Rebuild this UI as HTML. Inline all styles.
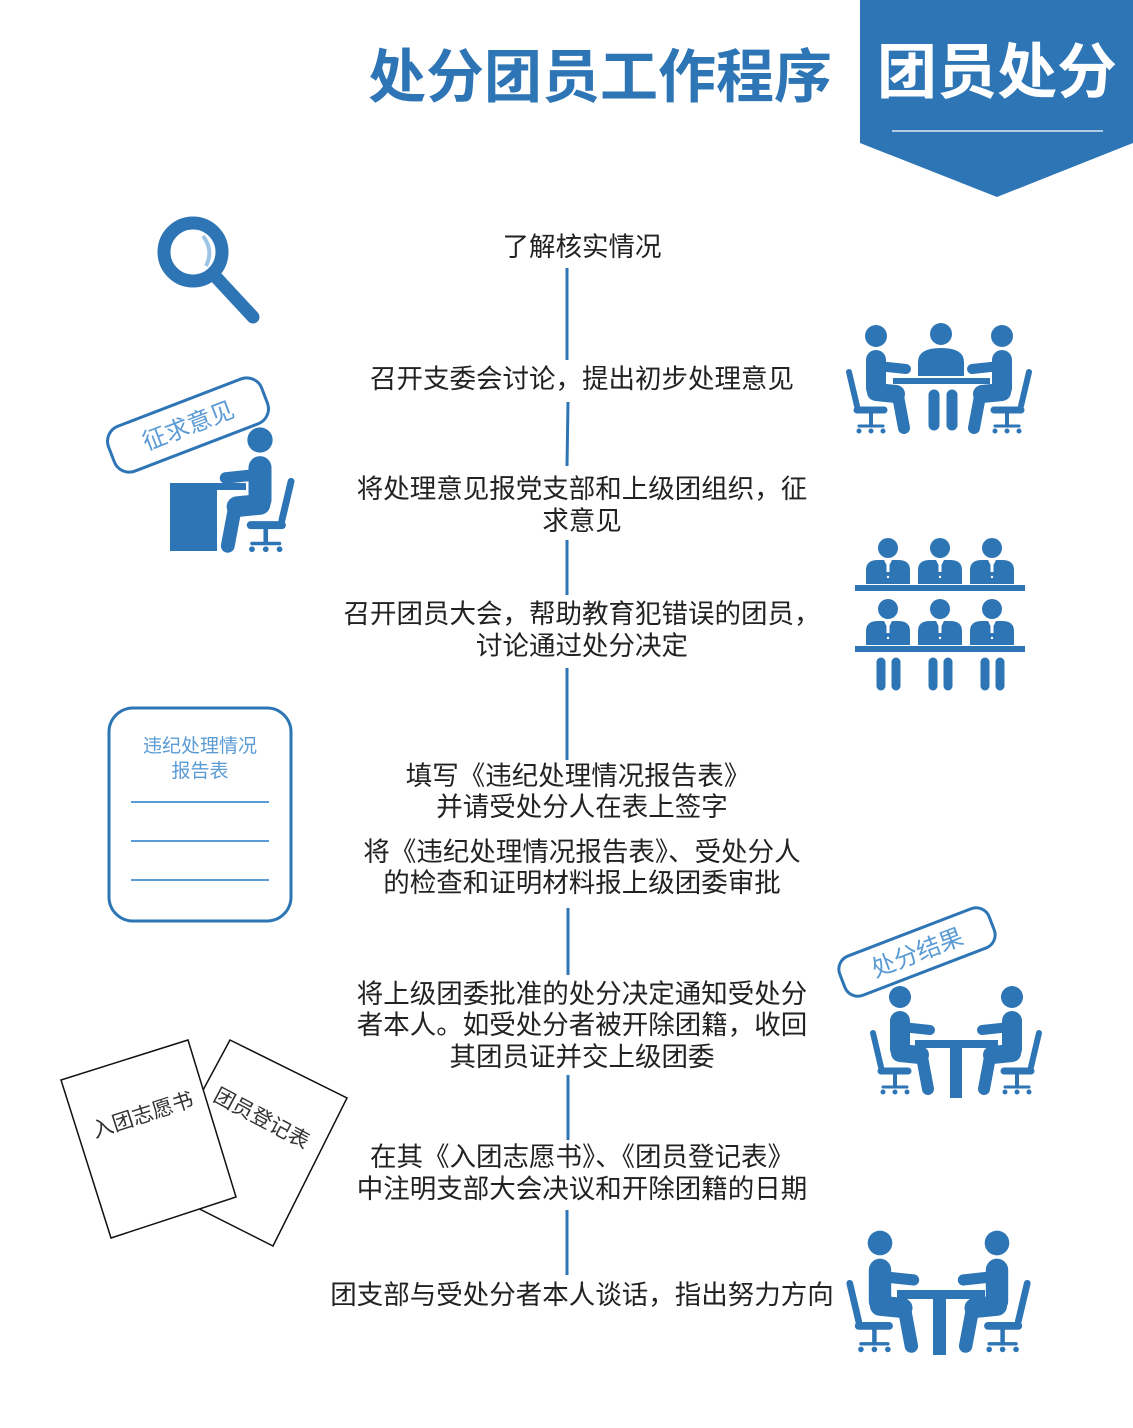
<!DOCTYPE html>
<html><head><meta charset="utf-8"><style>
html,body{margin:0;padding:0;background:#fff;}
svg{display:block;}
text{font-family:"Liberation Sans","Noto Sans CJK SC",sans-serif;}
</style></head><body>
<svg width="1133" height="1428" viewBox="0 0 1133 1428" xmlns="http://www.w3.org/2000/svg">
<defs>
<g id="sit" fill="#2e75b6" stroke="#2e75b6" stroke-linecap="round">
  <circle cx="0" cy="0" r="11" stroke="none"/>
  <line x1="0" y1="24" x2="0" y2="52" stroke-width="20"/>
  <line x1="2" y1="30" x2="30" y2="33" stroke-width="10"/>
  <line x1="0" y1="56" x2="20" y2="58" stroke-width="18"/>
  <line x1="22" y1="60" x2="28" y2="92" stroke-width="12"/>
  <line x1="-27" y1="36" x2="-19" y2="70" stroke-width="6"/>
  <line x1="-19" y1="74" x2="8" y2="74" stroke-width="7"/>
  <line x1="-5" y1="74" x2="-5" y2="90" stroke-width="4" stroke-linecap="butt"/>
  <line x1="-17" y1="90" x2="7" y2="90" stroke-width="3"/>
  <circle cx="-17" cy="95" r="2.5" stroke="none"/><circle cx="-5" cy="95" r="2.5" stroke="none"/><circle cx="7" cy="95" r="2.5" stroke="none"/>
</g>
<g id="suit" fill="#2e75b6">
  <circle cx="0" cy="0" r="10"/>
  <path d="M-22 36 L-22 22 Q-22 12 -10 12 L10 12 Q22 12 22 22 L22 36 Z"/>
  <path d="M-4 12 L0 20 L4 12 Z" fill="#fff"/>
  <rect x="-1.5" y="16" width="3" height="8" fill="#fff"/>
  <circle cx="0" cy="29" r="1.2" fill="#fff"/>
</g>
</defs>

<text x="600" y="97" font-size="58" font-weight="bold" fill="#2e75b6" text-anchor="middle">处分团员工作程序</text>
<polygon points="860,0 1133,0 1133,143 997,197 860,143" fill="#2e75b6"/>
<text x="997" y="93" font-size="60" font-weight="bold" fill="#fff" text-anchor="middle">团员处分</text>
<line x1="892" y1="131" x2="1103" y2="131" stroke="#fff" stroke-width="1.2"/>

<g stroke="#2e75b6" stroke-width="3">
<line x1="567" y1="268" x2="567" y2="360"/>
<line x1="568" y1="402" x2="567" y2="466"/>
<line x1="567" y1="540" x2="567" y2="595"/>
<line x1="567" y1="668" x2="567" y2="760"/>
<line x1="568" y1="908" x2="568" y2="975"/>
<line x1="568" y1="1075" x2="568" y2="1140"/>
<line x1="567" y1="1210" x2="567" y2="1275"/>
</g>

<g font-size="26.5" fill="#222" text-anchor="middle">
<text x="582" y="256">了解核实情况</text>
<text x="582" y="388">召开支委会讨论，提出初步处理意见</text>
<text x="582" y="498">将处理意见报党支部和上级团组织，征</text>
<text x="582" y="530">求意见</text>
<text x="582" y="623">召开团员大会，帮助教育犯错误的团员，</text>
<text x="582" y="655">讨论通过处分决定</text>
<text x="578" y="785">填写《违纪处理情况报告表》</text>
<text x="582" y="816">并请受处分人在表上签字</text>
<text x="582" y="861">将《违纪处理情况报告表》、受处分人</text>
<text x="582" y="892">的检查和证明材料报上级团委审批</text>
<text x="582" y="1003">将上级团委批准的处分决定通知受处分</text>
<text x="582" y="1034">者本人。如受处分者被开除团籍，收回</text>
<text x="582" y="1066">其团员证并交上级团委</text>
<text x="582" y="1166">在其《入团志愿书》、《团员登记表》</text>
<text x="582" y="1198">中注明支部大会决议和开除团籍的日期</text>
<text x="582" y="1304">团支部与受处分者本人谈话，指出努力方向</text>
</g>

<g stroke="#2e75b6" fill="none">
<circle cx="193" cy="252" r="29" stroke-width="13"/>
<line x1="214" y1="275" x2="253" y2="317" stroke-width="13" stroke-linecap="round"/>
</g>
<path d="M203 236 Q214 250 206 266" stroke="#9dc3e6" stroke-width="4" fill="none"/>

<g transform="translate(188,425) rotate(-21)">
<rect x="-82" y="-24" width="164" height="48" rx="16" fill="#fff" stroke="#2e75b6" stroke-width="3"/>
<text x="0" y="9" font-size="24" fill="#5b9bd5" text-anchor="middle" font-family="Liberation Serif,'Noto Serif CJK SC',serif">征求意见</text>
</g>
<rect x="170" y="483" width="47" height="68" fill="#2e75b6"/>
<rect x="170" y="483" width="76" height="7" fill="#2e75b6"/>
<g transform="translate(260,440) scale(-1.15,1.15)"><use href="#sit"/></g>

<g transform="translate(876,336)"><use href="#sit"/></g>
<g transform="translate(1002,336) scale(-1,1)"><use href="#sit"/></g>
<circle cx="941" cy="334" r="11" fill="#2e75b6"/>
<path d="M918 376 L918 362 Q918 348 941 348 Q964 348 964 362 L964 376 Z" fill="#2e75b6"/>
<rect x="893" y="378" width="97" height="6" fill="#2e75b6"/>
<g stroke="#2e75b6" stroke-width="11" stroke-linecap="round"><line x1="934" y1="395" x2="934" y2="425"/><line x1="952" y1="395" x2="952" y2="425"/></g>

<use href="#suit" x="888" y="548"/><use href="#suit" x="940" y="548"/><use href="#suit" x="992" y="548"/>
<rect x="855" y="585" width="170" height="6" fill="#2e75b6"/>
<use href="#suit" x="888" y="609"/><use href="#suit" x="940" y="609"/><use href="#suit" x="992" y="609"/>
<rect x="855" y="646" width="170" height="6" fill="#2e75b6"/>
<g stroke="#2e75b6" stroke-width="9" stroke-linecap="round">
<line x1="881" y1="662" x2="881" y2="686"/><line x1="896" y1="662" x2="896" y2="686"/>
<line x1="933" y1="662" x2="933" y2="686"/><line x1="948" y1="662" x2="948" y2="686"/>
<line x1="985" y1="662" x2="985" y2="686"/><line x1="1000" y1="662" x2="1000" y2="686"/>
</g>

<rect x="109" y="708" width="182" height="213" rx="24" fill="#fff" stroke="#2e75b6" stroke-width="3"/>
<g font-size="19" fill="#5b9bd5" text-anchor="middle"><text x="200" y="752">违纪处理情况</text><text x="200" y="777">报告表</text></g>
<g stroke="#5b9bd5" stroke-width="2"><line x1="131" y1="802" x2="269" y2="802"/><line x1="131" y1="841" x2="269" y2="841"/><line x1="131" y1="880" x2="269" y2="880"/></g>

<g transform="translate(917,952) rotate(-21)">
<rect x="-80" y="-21" width="160" height="42" rx="14" fill="#fff" stroke="#2e75b6" stroke-width="3"/>
<text x="0" y="9" font-size="24" fill="#5b9bd5" text-anchor="middle" font-family="Liberation Serif,'Noto Serif CJK SC',serif">处分结果</text>
</g>
<g transform="translate(900,997)"><use href="#sit"/></g>
<g transform="translate(1012,997) scale(-1,1)"><use href="#sit"/></g>
<rect x="915" y="1040" width="83" height="8" fill="#2e75b6"/>
<rect x="950" y="1048" width="12" height="50" fill="#2e75b6"/>

<polygon points="230,1040 347,1098 273,1246 152,1185" fill="#fff" stroke="#111" stroke-width="1.5"/>
<text transform="translate(212,1100) rotate(28)" font-size="21" fill="#333" font-family="Liberation Serif,'Noto Serif CJK SC',serif">团员登记表</text>
<polygon points="61,1080 188,1040 236,1197 111,1238" fill="#fff" stroke="#111" stroke-width="1.5"/>
<text transform="translate(95,1138) rotate(-18)" font-size="21" fill="#333" font-family="Liberation Serif,'Noto Serif CJK SC',serif">入团志愿书</text>

<g transform="translate(880,1243) scale(1.12)"><use href="#sit"/></g>
<g transform="translate(997,1243) scale(-1.12,1.12)"><use href="#sit"/></g>
<rect x="897" y="1290" width="88" height="9" fill="#2e75b6"/>
<rect x="933" y="1299" width="13" height="56" fill="#2e75b6"/>
</svg>
</body></html>
